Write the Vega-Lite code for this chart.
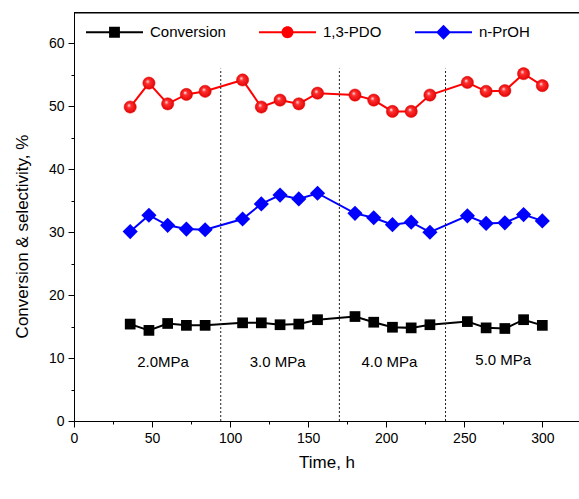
{
  "$schema": "https://vega.github.io/schema/vega-lite/v6.json",
  "width": 505,
  "height": 409,
  "autosize": {"type": "none"},
  "padding": {"left": 74, "top": 12, "right": 0, "bottom": 78},
  "background": "white",
  "config": {
    "view": {"stroke": null},
    "font": "Liberation Sans",
    "axis": {"grid": false, "domainColor": "black", "tickColor": "black", "labelColor": "black", "titleColor": "black", "labelFlush": false, "labelOverlap": false, "labelFont": "Liberation Sans", "titleFont": "Liberation Sans", "titleFontWeight": "normal"}
  },
  "datasets": {
    "main": [
      {"s": "Conversion", "t": 36, "v": 15.4}, {"s": "Conversion", "t": 48, "v": 14.4}, {"s": "Conversion", "t": 60, "v": 15.5}, {"s": "Conversion", "t": 72, "v": 15.2}, {"s": "Conversion", "t": 84, "v": 15.2},
      {"s": "Conversion", "t": 108, "v": 15.6}, {"s": "Conversion", "t": 120, "v": 15.6}, {"s": "Conversion", "t": 132, "v": 15.3}, {"s": "Conversion", "t": 144, "v": 15.4}, {"s": "Conversion", "t": 156, "v": 16.1},
      {"s": "Conversion", "t": 180, "v": 16.6}, {"s": "Conversion", "t": 192, "v": 15.7}, {"s": "Conversion", "t": 204, "v": 14.9}, {"s": "Conversion", "t": 216, "v": 14.8}, {"s": "Conversion", "t": 228, "v": 15.3},
      {"s": "Conversion", "t": 252, "v": 15.8}, {"s": "Conversion", "t": 264, "v": 14.8}, {"s": "Conversion", "t": 276, "v": 14.7}, {"s": "Conversion", "t": 288, "v": 16.1}, {"s": "Conversion", "t": 300, "v": 15.2},
      {"s": "1,3-PDO", "t": 36, "v": 49.9}, {"s": "1,3-PDO", "t": 48, "v": 53.7}, {"s": "1,3-PDO", "t": 60, "v": 50.4}, {"s": "1,3-PDO", "t": 72, "v": 51.9}, {"s": "1,3-PDO", "t": 84, "v": 52.4},
      {"s": "1,3-PDO", "t": 108, "v": 54.2}, {"s": "1,3-PDO", "t": 120, "v": 49.9}, {"s": "1,3-PDO", "t": 132, "v": 51.0}, {"s": "1,3-PDO", "t": 144, "v": 50.4}, {"s": "1,3-PDO", "t": 156, "v": 52.1},
      {"s": "1,3-PDO", "t": 180, "v": 51.8}, {"s": "1,3-PDO", "t": 192, "v": 51.0}, {"s": "1,3-PDO", "t": 204, "v": 49.2}, {"s": "1,3-PDO", "t": 216, "v": 49.2}, {"s": "1,3-PDO", "t": 228, "v": 51.8},
      {"s": "1,3-PDO", "t": 252, "v": 53.8}, {"s": "1,3-PDO", "t": 264, "v": 52.4}, {"s": "1,3-PDO", "t": 276, "v": 52.5}, {"s": "1,3-PDO", "t": 288, "v": 55.2}, {"s": "1,3-PDO", "t": 300, "v": 53.3},
      {"s": "n-PrOH", "t": 36, "v": 30.1}, {"s": "n-PrOH", "t": 48, "v": 32.7}, {"s": "n-PrOH", "t": 60, "v": 31.1}, {"s": "n-PrOH", "t": 72, "v": 30.5}, {"s": "n-PrOH", "t": 84, "v": 30.4},
      {"s": "n-PrOH", "t": 108, "v": 32.1}, {"s": "n-PrOH", "t": 120, "v": 34.5}, {"s": "n-PrOH", "t": 132, "v": 35.9}, {"s": "n-PrOH", "t": 144, "v": 35.3}, {"s": "n-PrOH", "t": 156, "v": 36.2},
      {"s": "n-PrOH", "t": 180, "v": 33.0}, {"s": "n-PrOH", "t": 192, "v": 32.3}, {"s": "n-PrOH", "t": 204, "v": 31.2}, {"s": "n-PrOH", "t": 216, "v": 31.6}, {"s": "n-PrOH", "t": 228, "v": 30.0},
      {"s": "n-PrOH", "t": 252, "v": 32.6}, {"s": "n-PrOH", "t": 264, "v": 31.4}, {"s": "n-PrOH", "t": 276, "v": 31.5}, {"s": "n-PrOH", "t": 288, "v": 32.8}, {"s": "n-PrOH", "t": 300, "v": 31.8}
    ],
    "vlines": [{"t": 94, "lo": 0, "hi": 56}, {"t": 170, "lo": 0, "hi": 56}, {"t": 238, "lo": 0, "hi": 56}],
    "frame": [{"top": 64.9, "x0": 0, "x1": 323.5}],
    "labels": [
      {"t": 57, "v": 9.4, "label": "2.0MPa"},
      {"t": 130.5, "v": 9.4, "label": "3.0 MPa"},
      {"t": 202, "v": 9.4, "label": "4.0 MPa"},
      {"t": 275, "v": 9.7, "label": "5.0 MPa"}
    ]
  },
  "layer": [
    {
      "data": {"name": "main"},
      "mark": {"type": "point", "filled": true, "opacity": 0},
      "encoding": {
        "x": {"field": "t", "type": "quantitative", "scale": {"domain": [0, 323.5], "nice": false, "zero": false},
              "axis": {"orient": "bottom", "values": [0, 50, 100, 150, 200, 250, 300], "tickSize": 6, "labelFontSize": 14, "labelPadding": 4, "title": "Time, h", "titleFontSize": 17, "titlePadding": 9}},
        "y": {"field": "v", "type": "quantitative", "scale": {"domain": [0, 65], "nice": false, "zero": false},
              "axis": {"orient": "left", "values": [0, 10, 20, 30, 40, 50, 60], "tickSize": 6, "labelFontSize": 14, "labelPadding": 4, "title": "Conversion & selectivity, %", "titleFontSize": 17, "titleX": -52, "titleY": 224, "titleBaseline": "middle", "titleAngle": -90}},
        "color": {"field": "s", "type": "nominal", "scale": {"domain": ["Conversion", "1,3-PDO", "n-PrOH"], "range": ["#000000", "#ff0000", "#0000ff"]},
                  "legend": {"title": null, "orient": "none", "legendX": 12, "legendY": -8.5, "direction": "horizontal", "symbolSize": 3249, "symbolStrokeWidth": 0, "symbolOpacity": 1, "labelFontSize": 15, "labelFont": "Liberation Sans", "labelColor": "#000000", "labelOffset": 7, "columnPadding": 33, "padding": 0}},
        "shape": {"field": "s", "type": "nominal",
                  "scale": {"domain": ["Conversion", "1,3-PDO", "n-PrOH"],
                            "range": ["M-1,-0.035H1V0.035H-1Z M-0.19,-0.19H0.19V0.19H-0.19Z",
                                      "M-1,-0.035H1V0.035H-1Z M0.21,0 A0.21,0.21 0 1,1 -0.21,0 A0.21,0.21 0 1,1 0.21,0 Z",
                                      "M-1,-0.035H1V0.035H-1Z M0,-0.26L0.26,0L0,0.26L-0.26,0Z"]},
                  "legend": {"title": null, "orient": "none", "legendX": 12, "legendY": -8.5, "direction": "horizontal", "symbolSize": 3249, "symbolStrokeWidth": 0, "symbolOpacity": 1, "labelFontSize": 15, "labelFont": "Liberation Sans", "labelColor": "#000000", "labelOffset": 7, "columnPadding": 33, "padding": 0}}
      }
    },
    {
      "data": {"name": "main"},
      "mark": {"type": "line", "strokeWidth": 2},
      "encoding": {
        "x": {"field": "t", "type": "quantitative", "axis": {"orient": "bottom", "values": [25, 75, 125, 175, 225, 275], "tickSize": 3, "labels": false, "domain": false, "title": null}},
        "y": {"field": "v", "type": "quantitative", "axis": {"orient": "left", "values": [5, 15, 25, 35, 45, 55], "tickSize": 3, "labels": false, "domain": false, "title": null}},
        "color": {"field": "s", "type": "nominal", "legend": null}
      }
    },
    {
      "data": {"name": "main"},
      "transform": [{"filter": "datum.s == 'Conversion'"}],
      "mark": {"type": "point", "shape": "square", "filled": true, "size": 115, "color": "#000000", "opacity": 1},
      "encoding": {
        "x": {"field": "t", "type": "quantitative", "axis": null},
        "y": {"field": "v", "type": "quantitative", "axis": null}
      }
    },
    {
      "data": {"name": "main"},
      "transform": [{"filter": "datum.s == '1,3-PDO'"}],
      "mark": {"type": "point", "shape": "circle", "filled": true, "size": 150, "opacity": 1, "stroke": "#e00000", "strokeWidth": 0.5,
               "fill": {"gradient": "radial", "x1": 0.38, "y1": 0.35, "r1": 0, "x2": 0.5, "y2": 0.5, "r2": 0.55,
                        "stops": [{"offset": 0, "color": "#ffffff"}, {"offset": 0.3, "color": "#ff3030"}, {"offset": 1, "color": "#e00000"}]}},
      "encoding": {
        "x": {"field": "t", "type": "quantitative", "axis": null},
        "y": {"field": "v", "type": "quantitative", "axis": null}
      }
    },
    {
      "data": {"name": "main"},
      "transform": [{"filter": "datum.s == 'n-PrOH'"}],
      "mark": {"type": "point", "shape": "diamond", "filled": true, "size": 230, "color": "#0000ff", "opacity": 1},
      "encoding": {
        "x": {"field": "t", "type": "quantitative", "axis": null},
        "y": {"field": "v", "type": "quantitative", "axis": null}
      }
    },
    {
      "data": {"name": "vlines"},
      "mark": {"type": "rule", "strokeDash": [2, 2], "strokeWidth": 1, "color": "#222222"},
      "encoding": {
        "x": {"field": "t", "type": "quantitative", "axis": null},
        "y": {"field": "lo", "type": "quantitative", "axis": null},
        "y2": {"field": "hi"}
      }
    },
    {
      "data": {"name": "frame"},
      "mark": {"type": "rule", "color": "#000000", "strokeWidth": 1.5, "opacity": 1},
      "encoding": {
        "x": {"field": "x0", "type": "quantitative", "axis": null},
        "x2": {"field": "x1"},
        "y": {"field": "top", "type": "quantitative", "axis": null}
      }
    },
    {
      "data": {"name": "labels"},
      "mark": {"type": "text", "fontSize": 15, "font": "Liberation Sans", "color": "#000000", "align": "center", "baseline": "middle"},
      "encoding": {
        "x": {"field": "t", "type": "quantitative", "axis": null},
        "y": {"field": "v", "type": "quantitative", "axis": null},
        "text": {"field": "label"}
      }
    }
  ],
  "resolve": {"axis": {"x": "independent", "y": "independent"}}
}
